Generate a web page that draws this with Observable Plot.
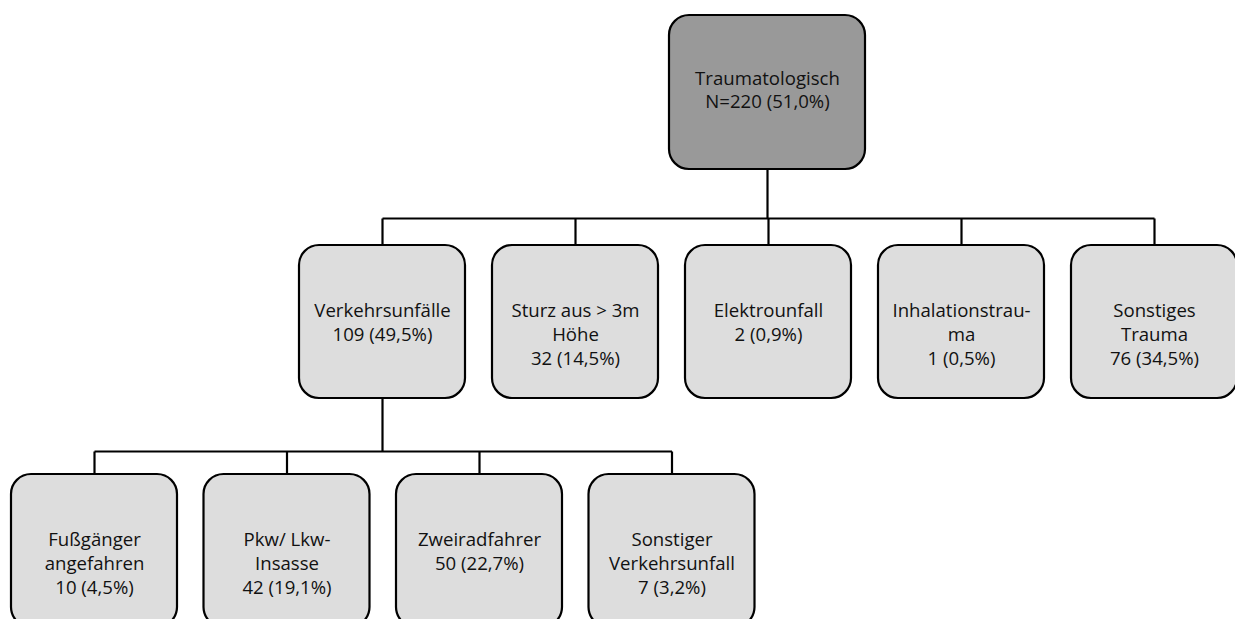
<!DOCTYPE html>
<html><head><meta charset="utf-8">
<script src="https://cdn.jsdelivr.net/npm/d3@7"></script>
<script src="https://cdn.jsdelivr.net/npm/@observablehq/plot@0.6"></script>
<style>body{margin:0;background:#fff}</style>
</head><body><div id="chart"></div>
<script>
// Data
const labels = ["Traumatologisch", "Verkehrsunfälle", "Sturz aus > 3m\nHöhe", "Elektrounfall", "Inhalationstrau-\nma", "Sonstiges\nTrauma", "Fußgänger\nangefahren", "Pkw/ Lkw-\nInsasse", "Zweiradfahrer", "Sonstiger\nVerkehrsunfall"];
const counts = [220, 109, 32, 2, 1, 76, 10, 42, 50, 7];
const percents = ["51,0", "49,5", "14,5", "0,9", "0,5", "34,5", "4,5", "19,1", "22,7", "3,2"];
const parents = [null, 0, 0, 0, 0, 0, 1, 1, 1, 1];

// Layout (pixels)
const W = 1235, H = 619;
const levelTop = [15, 245, 474];
const levelW = [196, 166, 166];
const levelH = [154, 153, 153];
const levelStart = [767, 382, 94];
const levelStep = [0, 193, 192.5];
const barY = [218, 451];
const fs = 18.6;

const depth = parents.map((p, i) => { let d = 0, q = p; while (q != null) { d++; q = parents[q]; } return d; });
const idxInLevel = depth.map((d, i) => depth.slice(0, i).filter(x => x === d).length);
const nodes = labels.map((l, i) => {
  const d = depth[i];
  const cx = levelStart[d] + levelStep[d] * idxInLevel[i];
  return {
    d, cx,
    x1: cx - levelW[d] / 2, x2: cx + levelW[d] / 2,
    y1: levelTop[d], y2: levelTop[d] + levelH[d],
    text: (i === 0 ? l + "\nN=" : l + "\n") + counts[i] + " (" + percents[i] + "%)"
  };
});

const segs = [];
nodes.forEach((n, i) => {
  const kids = nodes.filter((k, j) => parents[j] === i);
  if (!kids.length) return;
  const by = barY[n.d];
  segs.push({x1: n.cx, y1: n.y2, x2: n.cx, y2: by});
  segs.push({x1: d3.min(kids, k => k.cx), y1: by, x2: d3.max(kids, k => k.cx), y2: by});
  kids.forEach(k => segs.push({x1: k.cx, y1: by, x2: k.cx, y2: k.y1}));
});

const rootNodes = nodes.filter(n => n.d === 0);
const otherNodes = nodes.filter(n => n.d > 0);

const chart = Plot.plot({
  width: W, height: H, margin: 0,
  x: {type: "identity"}, y: {type: "identity"},
  style: {fontFamily: "'Open Sans', sans-serif", background: "#fff"},
  marks: [
    Plot.link(segs, {x1: "x1", y1: "y1", x2: "x2", y2: "y2", stroke: "#000", strokeWidth: 2.2}),
    Plot.rect(nodes, {x1: "x1", x2: "x2", y1: "y1", y2: "y2", rx: 20,
      fill: d => d.d === 0 ? "#999999" : "#dddddd", stroke: "#000", strokeWidth: 2.2}),
    Plot.text(rootNodes, {x: "cx", y: d => d.y1 + 54, text: "text", lineAnchor: "top",
      lineHeight: 22.5 / fs, fontSize: fs, fill: "#111"}),
    Plot.text(otherNodes, {x: "cx", y: d => d.y1 + 54.5, text: "text", lineAnchor: "top",
      lineHeight: 24 / fs, fontSize: fs, fill: "#111"})
  ]
});
document.getElementById("chart").append(chart);
</script></body></html>
